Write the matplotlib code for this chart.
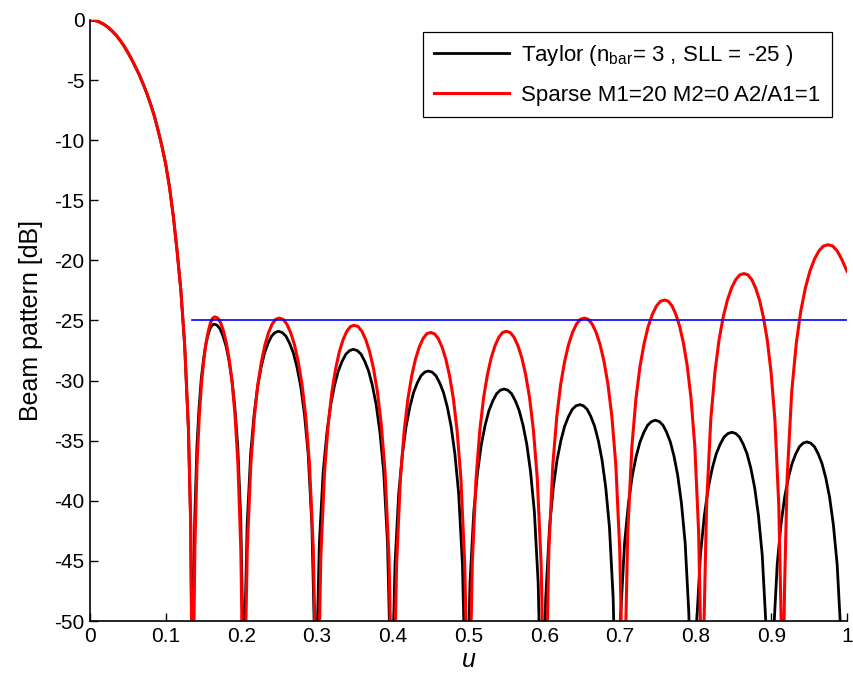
import numpy as np
import matplotlib
matplotlib.use('Agg')
import matplotlib.pyplot as plt

plt.rcParams['font.family'] = ['Liberation Sans', 'DejaVu Sans']
plt.rcParams['mathtext.fontset'] = 'custom'
plt.rcParams['mathtext.rm'] = 'Liberation Sans'
plt.rcParams['axes.unicode_minus'] = False

# values (u, dB); nulls go below the -50 dB floor
main_u = [0.000, 0.005, 0.010, 0.015, 0.020, 0.025, 0.030, 0.035, 0.040, 0.045,
          0.050, 0.055, 0.060, 0.065, 0.070, 0.075, 0.080, 0.085, 0.090, 0.095,
          0.100, 0.105, 0.110, 0.115, 0.120, 0.125, 0.130, 0.133, 0.1355]
main_db = [0.0, -0.03, -0.1, -0.25, -0.43, -0.67, -0.97, -1.3, -1.72, -2.17,
           -2.7, -3.28, -3.9, -4.55, -5.3, -6.1, -7.0, -8.0, -9.2, -10.5,
           -12.0, -13.9, -16.3, -19.2, -22.5, -27.0, -34.0, -42.0, -60.0]

# sparse array side lobes, one row per lobe
sparse_lobe_u = [
    [0.1367, 0.1385, 0.1414, 0.1444, 0.1473, 0.1503, 0.1532, 0.1562, 0.1591, 0.1621, 0.165,
     0.1688, 0.1726, 0.1764, 0.1802, 0.1840, 0.1878, 0.1916, 0.1954, 0.1992, 0.2015, 0.203],
    [0.2049, 0.2077, 0.2124, 0.2171, 0.2218, 0.2265, 0.2312, 0.2359, 0.2406, 0.2453, 0.250,
     0.255, 0.260, 0.265, 0.270, 0.275, 0.280, 0.285, 0.290, 0.295, 0.298, 0.300],
    [0.302, 0.3049, 0.3098, 0.3147, 0.3196, 0.3245, 0.3294, 0.3343, 0.3392, 0.3441, 0.349,
     0.3541, 0.3592, 0.3643, 0.3694, 0.3745, 0.3796, 0.3847, 0.3898, 0.3949, 0.398, 0.400],
    [0.402, 0.405, 0.410, 0.415, 0.420, 0.425, 0.430, 0.435, 0.440, 0.445, 0.450,
     0.455, 0.460, 0.465, 0.470, 0.475, 0.480, 0.485, 0.490, 0.495, 0.498, 0.500],
    [0.502, 0.505, 0.510, 0.515, 0.520, 0.525, 0.530, 0.535, 0.540, 0.545, 0.550,
     0.5551, 0.5602, 0.5653, 0.5704, 0.5755, 0.5806, 0.5857, 0.5908, 0.5959, 0.599, 0.601],
    [0.6031, 0.6062, 0.6114, 0.6166, 0.6218, 0.627, 0.6322, 0.6374, 0.6426, 0.6478, 0.653,
     0.6582, 0.6634, 0.6686, 0.6738, 0.679, 0.6842, 0.6894, 0.6946, 0.6998, 0.7029, 0.705],
    [0.7072, 0.7104, 0.7158, 0.7212, 0.7266, 0.732, 0.7374, 0.7428, 0.7482, 0.7536, 0.759,
     0.764, 0.769, 0.774, 0.779, 0.784, 0.789, 0.794, 0.799, 0.804, 0.807, 0.809],
    [0.8112, 0.8145, 0.820, 0.8255, 0.831, 0.8365, 0.842, 0.8475, 0.853, 0.8585, 0.864,
     0.8691, 0.8742, 0.8793, 0.8844, 0.8895, 0.8946, 0.8997, 0.9048, 0.9099, 0.913, 0.915],
    [0.9174, 0.921, 0.927, 0.933, 0.939, 0.945, 0.951, 0.957, 0.963, 0.969, 0.975,
     0.981, 0.987, 0.993, 1.000],
]
sparse_lobe_db = [
    [-53.5, -44.0, -36.9, -32.9, -30.2, -28.3, -26.9, -25.9, -25.2, -24.8, -24.7,
     -24.8, -25.2, -25.9, -26.9, -28.3, -30.2, -32.9, -36.9, -44.0, -53.5, -60.0],
    [-53.6, -44.1, -37.0, -33.0, -30.3, -28.4, -27.0, -26.0, -25.3, -24.9, -24.8,
     -24.9, -25.3, -26.0, -27.0, -28.4, -30.3, -33.0, -37.0, -44.1, -53.6, -60.0],
    [-54.2, -44.7, -37.6, -33.6, -30.9, -29.0, -27.6, -26.6, -25.9, -25.5, -25.4,
     -25.5, -25.9, -26.6, -27.6, -29.0, -30.9, -33.6, -37.6, -44.7, -54.2, -60.0],
    [-54.8, -45.3, -38.2, -34.2, -31.5, -29.6, -28.2, -27.2, -26.5, -26.1, -26.0,
     -26.1, -26.5, -27.2, -28.2, -29.6, -31.5, -34.2, -38.2, -45.3, -54.8, -60.0],
    [-54.7, -45.2, -38.1, -34.1, -31.4, -29.5, -28.1, -27.1, -26.4, -26.0, -25.9,
     -26.0, -26.4, -27.1, -28.1, -29.5, -31.4, -34.1, -38.1, -45.2, -54.7, -60.0],
    [-53.6, -44.1, -37.0, -33.0, -30.3, -28.4, -27.0, -26.0, -25.3, -24.9, -24.8,
     -24.9, -25.3, -26.0, -27.0, -28.4, -30.3, -33.0, -37.0, -44.1, -53.6, -60.0],
    [-52.1, -42.6, -35.5, -31.5, -28.8, -26.9, -25.5, -24.5, -23.8, -23.4, -23.3,
     -23.4, -23.8, -24.5, -25.5, -26.9, -28.8, -31.5, -35.5, -42.6, -52.1, -60.0],
    [-49.9, -40.4, -33.3, -29.3, -26.6, -24.7, -23.3, -22.3, -21.6, -21.2, -21.1,
     -21.2, -21.6, -22.3, -23.3, -24.7, -26.6, -29.3, -33.3, -40.4, -49.9, -60.0],
    [-47.5, -38.0, -30.9, -26.9, -24.2, -22.3, -20.9, -19.9, -19.2, -18.8, -18.7,
     -18.8, -19.2, -19.9, -20.9],
]

# Taylor side lobes, one row per lobe
taylor_lobe_u = [
    [0.1366, 0.1384, 0.1412, 0.1441, 0.1469, 0.1498, 0.1526, 0.1555, 0.1583, 0.1612, 0.164,
     0.1679, 0.1718, 0.1757, 0.1796, 0.1835, 0.1874, 0.1913, 0.1952, 0.1991, 0.2014, 0.203],
    [0.2048, 0.2076, 0.2122, 0.2168, 0.2214, 0.226, 0.2306, 0.2352, 0.2398, 0.2444, 0.249,
     0.2539, 0.2588, 0.2637, 0.2686, 0.2735, 0.2784, 0.2833, 0.2882, 0.2931, 0.296, 0.298],
    [0.300, 0.303, 0.308, 0.313, 0.318, 0.323, 0.328, 0.333, 0.338, 0.343, 0.348,
     0.353, 0.358, 0.363, 0.368, 0.373, 0.378, 0.383, 0.388, 0.393, 0.396, 0.398],
    [0.400, 0.4029, 0.4078, 0.4127, 0.4176, 0.4225, 0.4274, 0.4323, 0.4372, 0.4421, 0.447,
     0.452, 0.457, 0.462, 0.467, 0.472, 0.477, 0.482, 0.487, 0.492, 0.495, 0.497],
    [0.499, 0.502, 0.507, 0.512, 0.517, 0.522, 0.527, 0.532, 0.537, 0.542, 0.547,
     0.552, 0.557, 0.562, 0.567, 0.572, 0.577, 0.582, 0.587, 0.592, 0.595, 0.597],
    [0.599, 0.602, 0.607, 0.612, 0.617, 0.622, 0.627, 0.632, 0.637, 0.642, 0.647,
     0.6519, 0.6568, 0.6617, 0.6666, 0.6715, 0.6764, 0.6813, 0.6862, 0.6911, 0.694, 0.696],
    [0.698, 0.7011, 0.7062, 0.7113, 0.7164, 0.7215, 0.7266, 0.7317, 0.7368, 0.7419, 0.747,
     0.7519, 0.7568, 0.7617, 0.7666, 0.7715, 0.7764, 0.7813, 0.7862, 0.7911, 0.794, 0.796],
    [0.798, 0.8012, 0.8064, 0.8116, 0.8168, 0.822, 0.8272, 0.8324, 0.8376, 0.8428, 0.848,
     0.853, 0.858, 0.863, 0.868, 0.873, 0.878, 0.883, 0.888, 0.893, 0.896, 0.898],
    [0.900, 0.9029, 0.9078, 0.9127, 0.9176, 0.9225, 0.9274, 0.9323, 0.9372, 0.9421, 0.947,
     0.952, 0.957, 0.962, 0.967, 0.972, 0.977, 0.982, 0.987, 0.992, 0.995, 0.997, 1.000],
]
taylor_lobe_db = [
    [-49.3, -41.4, -35.5, -32.2, -29.9, -28.3, -27.1, -26.3, -25.7, -25.4, -25.3,
     -25.4, -25.7, -26.3, -27.1, -28.3, -29.9, -32.2, -35.5, -41.4, -49.3, -60.0],
    [-49.9, -42.0, -36.1, -32.8, -30.5, -28.9, -27.7, -26.9, -26.3, -26.0, -25.9,
     -26.0, -26.3, -26.9, -27.7, -28.9, -30.5, -32.8, -36.1, -42.0, -49.9, -70.0],
    [-51.4, -43.5, -37.6, -34.3, -32.0, -30.4, -29.2, -28.4, -27.8, -27.5, -27.4,
     -27.5, -27.8, -28.4, -29.2, -30.4, -32.0, -34.3, -37.6, -43.5, -51.4, -70.0],
    [-53.2, -45.3, -39.4, -36.1, -33.8, -32.2, -31.0, -30.2, -29.6, -29.3, -29.2,
     -29.3, -29.6, -30.2, -31.0, -32.2, -33.8, -36.1, -39.4, -45.3, -53.2, -70.0],
    [-54.7, -46.8, -40.9, -37.6, -35.3, -33.7, -32.5, -31.7, -31.1, -30.8, -30.7,
     -30.8, -31.1, -31.7, -32.5, -33.7, -35.3, -37.6, -40.9, -46.8, -54.7, -70.0],
    [-56.0, -48.1, -42.2, -38.9, -36.6, -35.0, -33.8, -33.0, -32.4, -32.1, -32.0,
     -32.1, -32.4, -33.0, -33.8, -35.0, -36.6, -38.9, -42.2, -48.1, -56.0, -70.0],
    [-57.3, -49.4, -43.5, -40.2, -37.9, -36.3, -35.1, -34.3, -33.7, -33.4, -33.3,
     -33.4, -33.7, -34.3, -35.1, -36.3, -37.9, -40.2, -43.5, -49.4, -57.3, -70.0],
    [-58.3, -50.4, -44.5, -41.2, -38.9, -37.3, -36.1, -35.3, -34.7, -34.4, -34.3,
     -34.4, -34.7, -35.3, -36.1, -37.3, -38.9, -41.2, -44.5, -50.4, -58.3, -70.0],
    [-59.1, -51.2, -45.3, -42.0, -39.7, -38.1, -36.9, -36.1, -35.5, -35.2, -35.1,
     -35.2, -35.5, -36.1, -36.9, -38.1, -39.7, -42.0, -45.3, -51.2, -59.1, -70.0, -62.0],
]

sll_db = -25
sll_u = [0.135, 1.0]

sparse_u = main_u + [v for lobe in sparse_lobe_u for v in lobe]
sparse_db = main_db + [v for lobe in sparse_lobe_db for v in lobe]
taylor_u = main_u + [v for lobe in taylor_lobe_u for v in lobe]
taylor_db = main_db + [v for lobe in taylor_lobe_db for v in lobe]

fig = plt.figure(figsize=(8.54, 6.84), dpi=100)
ax = fig.add_axes([0.1054, 0.0921, 0.8864, 0.8787])

ax.plot(taylor_u, taylor_db, color='black', lw=2.0,
        label=r'Taylor (n$_{\rm bar}$= 3 , SLL = -25 )')
ax.plot(sparse_u, sparse_db, color='red', lw=2.2,
        label='Sparse M1=20 M2=0 A2/A1=1')
ax.plot(sll_u, [sll_db, sll_db], color='blue', lw=1.2)

ax.set_xlim(0, 1)
ax.set_ylim(-50, 0)
ax.set_xticks(np.arange(0, 1.01, 0.1))
ax.set_xticklabels(['0', '0.1', '0.2', '0.3', '0.4', '0.5', '0.6', '0.7', '0.8', '0.9', '1'])
ax.set_yticks(np.arange(-50, 1, 5))
ax.tick_params(direction='in', length=6, width=1, labelsize=15, pad=4)
for side in ('top', 'right'):
    ax.spines[side].set_visible(False)
for side in ('left', 'bottom'):
    ax.spines[side].set_linewidth(1.2)

ax.set_xlabel('u', fontsize=18, style='italic', labelpad=2)
ax.set_ylabel('Beam pattern [dB]', fontsize=18, labelpad=8)

leg = ax.legend(loc='upper right', bbox_to_anchor=(0.98, 0.98), borderaxespad=0,
                fontsize=16, fancybox=False, framealpha=1, edgecolor='black',
                handlelength=3.4, handletextpad=0.55, borderpad=0.5, labelspacing=0.75)
leg.get_frame().set_linewidth(0.9)

fig.savefig('out.png', dpi=100)
